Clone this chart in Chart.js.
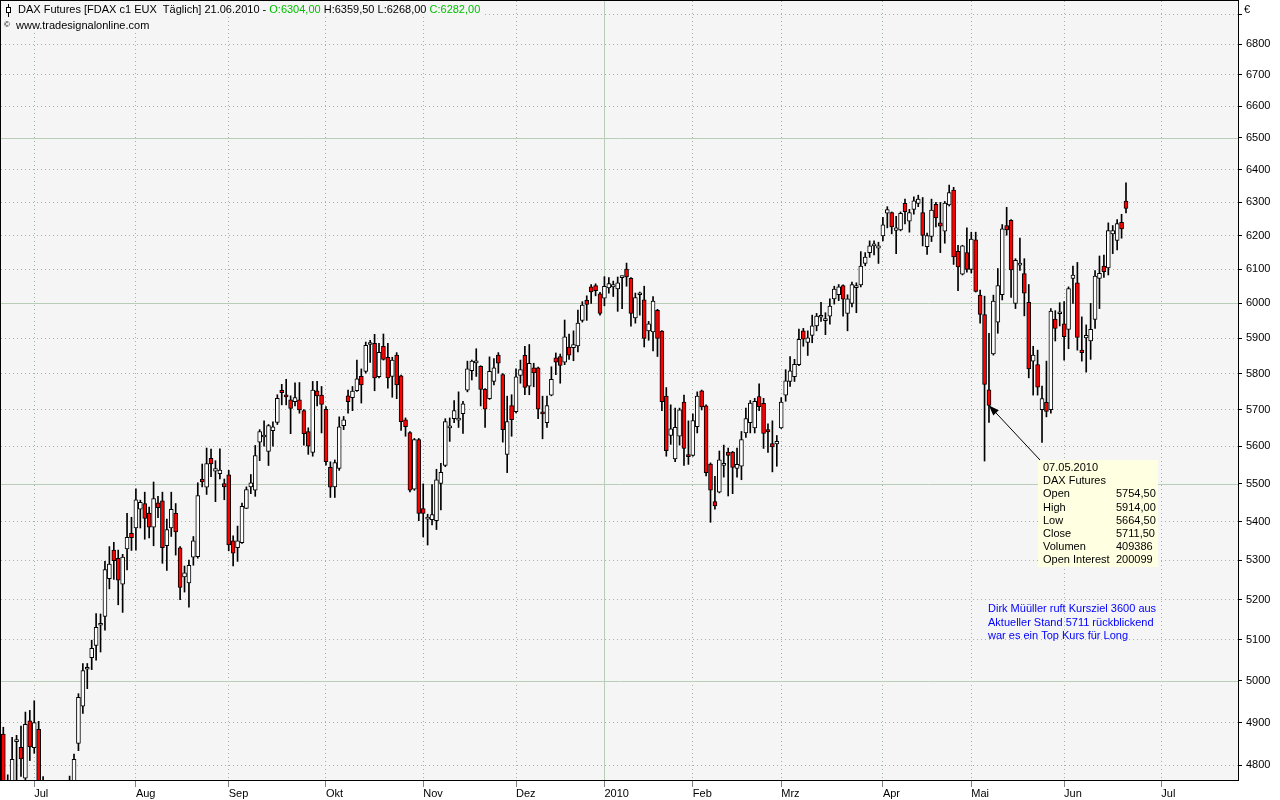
<!DOCTYPE html>
<html>
<head>
<meta charset="utf-8">
<title>DAX Futures</title>
<script src="https://cdn.jsdelivr.net/npm/chart.js@4.4.1/dist/chart.umd.min.js"></script>
<style>
  html, body { margin: 0; padding: 0; background: #fff; }
  #wrap { width: 1280px; height: 800px; }
</style>
</head>
<body>
<div id="wrap"><canvas id="c" width="1280" height="800"></canvas></div>
<script>
'use strict';

// Tagesdaten FDAX, 22.06.2009 - 21.06.2010 (Index = Handelstag)
const OPEN = [
  4873,4720,4760,4855,4842,4770,4904,4841,4884,4740,
  4710,4670,4630,4590,4610,4580,4720,4851,4939,5028,
  5056,5086,5136,5158,5253,5326,5305,5239,5329,5369,
  5383,5432,5447,5422,5385,5449,5454,5337,5383,5421,
  5332,5257,5242,5308,5309,5512,5490,5567,5533,5526,
  5500,5523,5350,5332,5345,5434,5491,5482,5611,5625,
  5586,5642,5665,5753,5738,5727,5722,5727,5697,5640,
  5583,5752,5740,5701,5543,5491,5540,5656,5738,5733,
  5752,5792,5806,5882,5885,5791,5877,5846,5792,5852,
  5794,5672,5637,5485,5618,5434,5406,5405,5402,5500,
  5548,5650,5675,5671,5689,5754,5808,5830,5820,5756,
  5730,5778,5852,5797,5578,5711,5694,5795,5851,5765,
  5816,5816,5692,5664,5740,5844,5848,5832,5875,5873,
  5878,5951,6009,6048,6052,6028,6015,6045,6048,6042,
  6075,6100,6073,5958,6025,6010,5921,5918,5980,5920,
  5737,5629,5566,5627,5721,5575,5575,5653,5752,5710,
  5552,5452,5477,5548,5584,5584,5540,5546,5636,5664,
  5650,5736,5717,5645,5607,5606,5650,5740,5778,5791,
  5825,5921,5888,5908,5935,5960,5950,5963,6013,6025,
  6052,5971,6000,6046,6054,6117,6149,6169,6162,6199,
  6267,6269,6215,6217,6297,6243,6279,6297,6269,6167,
  6197,6294,6238,6213,6292,6338,6153,6085,6149,6099,
  6187,6024,5968,5754.5,5855,5946,6025,6230,6246,6000,
  6112,6087,6003,5835,5825,5700,5720,5700,5955,5970,
  5941,5925,6073,6060,5866,5901,5892,5954,6073,6109,
  6104,6205,6185,6240,6304
];
const HIGH = [
  4889,4778,4865,4870,4892,4925,4929,4952,4903,4774,
  4740,4720,4660,4650,4640,4775,4826,4969,5042,5042,
  5099,5165,5164,5297,5335,5346,5326,5315,5421,5411,
  5486,5456,5477,5438,5504,5466,5477,5406,5477,5447,
  5335,5285,5300,5361,5502,5552,5595,5592,5561,5593,
  5512,5535,5363,5388,5448,5491,5524,5602,5645,5669,
  5659,5666,5741,5770,5784,5738,5774,5775,5700,5650,
  5778,5778,5764,5708,5558,5563,5680,5681,5754,5764,
  5838,5813,5889,5894,5911,5885,5912,5885,5846,5859,
  5796,5677,5640,5621,5621,5499,5419,5497,5538,5554,
  5675,5677,5725,5749,5723,5835,5838,5870,5822,5758,
  5847,5842,5859,5800,5737,5741,5813,5838,5877,5882,
  5829,5818,5737,5737,5819,5858,5855,5952,5912,5921,
  5981,6005,6022,6055,6057,6032,6078,6075,6065,6077,
  6080,6118,6075,6030,6033,6050,5948,6020,5983,5922,
  5761,5713,5704,5704,5740,5669,5688,5749,5754,5713,
  5555,5519,5587,5603,5595,5586,5595,5640,5704,5725,
  5731,5771,5731,5661,5669,5629,5733,5811,5848,5840,
  5926,5928,5921,5966,5971,6003,5973,6013,6050,6055,
  6054,6025,6062,6060,6152,6149,6184,6184,6180,6255,
  6287,6271,6258,6271,6310,6279,6317,6322,6315,6207,
  6310,6300,6300,6303,6353,6346,6171,6171,6223,6210,
  6210,6039,6021,5914,6024,6102,6233,6285,6248,6131,
  6192,6131,6055,5877,5866,5765,5835,5985,5979,6002,
  6005,6048,6109,6120,5961,5938,6000,6096,6139,6142,
  6238,6230,6248,6264,6359.5
];
const LOW = [
  4700,4690,4740,4760,4774,4760,4811,4828,4720,4700,
  4640,4620,4550,4570,4560,4560,4700,4834,4922,4981,
  5027,5050,5070,5124,5227,5251,5187,5168,5275,5325,
  5326,5383,5354,5357,5337,5410,5292,5274,5361,5313,
  5200,5219,5181,5287,5305,5491,5471,5518,5452,5512,
  5457,5324,5285,5297,5343,5434,5473,5466,5561,5600,
  5548,5600,5659,5713,5713,5634,5710,5690,5603,5578,
  5573,5710,5636,5549,5463,5463,5535,5645,5690,5697,
  5750,5718,5801,5831,5752,5788,5838,5759,5734,5730,
  5643,5627,5478,5482,5402,5360,5339,5391,5379,5430,
  5545,5613,5664,5651,5635,5749,5782,5792,5710,5651,
  5728,5768,5801,5611,5529,5627,5691,5773,5741,5741,
  5763,5675,5620,5651,5738,5797,5773,5825,5840,5836,
  5861,5946,5951,6000,6022,5966,5993,6030,6020,5977,
  5985,6050,5934,5943,5966,5875,5894,5864,5848,5697,
  5573,5605,5558,5603,5548,5551,5573,5636,5699,5520,
  5398,5432,5475,5517,5467,5473,5517,5510,5624,5636,
  5636,5697,5594,5583,5531,5546,5648,5723,5764,5778,
  5822,5877,5851,5887,5921,5948,5910,5940,5998,6008,
  5963,5921,5990,5973,6048,6110,6135,6142,6117,6184,
  6223,6205,6146,6214,6235,6210,6264,6287,6169,6144,
  6182,6226,6149,6177,6289,6114,6037,6083,6091,6089,
  6033,5943,5560,5664.5,5852,5914,6010,6201,6017,5985,
  6096,5964,5788,5740,5740,5610,5680,5690,5892,5935,
  5838,5870,6000,5866,5835,5804,5840,5928,5985,6076,
  6083,6146,6157,6192,6268
];
const CLOSE = [
  4710,4740,4814,4860,4815,4896,4843,4900,4740,4720,
  4660,4640,4580,4620,4580,4720,4814,4960,5025,5031,
  5079,5131,5140,5276,5290,5299,5249,5308,5359,5358,
  5457,5450,5408,5385,5460,5436,5332,5379,5432,5373,
  5231,5268,5287,5350,5468,5504,5553,5552,5540,5536,
  5491,5339,5318,5350,5440,5484,5502,5575,5640,5629,
  5656,5653,5731,5747,5735,5703,5733,5699,5634,5600,
  5754,5738,5714,5558,5490,5556,5653,5672,5722,5751,
  5785,5768,5880,5887,5788,5860,5840,5788,5838,5768,
  5667,5653,5482,5618,5421,5421,5410,5418,5510,5530,
  5667,5654,5697,5674,5716,5813,5835,5836,5756,5701,
  5806,5816,5829,5645,5667,5672,5791,5811,5761,5829,
  5802,5701,5688,5711,5784,5832,5823,5904,5852,5882,
  5943,5995,5997,6033,6037,5971,6050,6058,6055,6060,
  6078,6077,5971,6017,6030,5899,5941,6007,5899,5722,
  5588,5647,5651,5699,5594,5572,5670,5737,5707,5529,
  5482,5441,5563,5554,5575,5543,5551,5618,5675,5718,
  5723,5708,5635,5639,5598,5613,5721,5780,5808,5826,
  5897,5897,5901,5935,5963,5962,5956,5992,6042,6048,
  6012,6013,6055,6048,6109,6136,6169,6174,6169,6232,
  6278,6226,6223,6267,6272,6269,6305,6310,6200,6200,
  6277,6253,6228,6298,6330,6136,6107,6169,6099,6189,
  6035,5968,5770,5711.5,6007,6052,6220,6217,6098,6126,
  6116,6030,5813,5852,5762,5730,5695,5978,5928,5973,
  5904,6043,6083,5902,5859,5908,5925,6080,6088,6093,
  6215,6215,6236,6220,6282
];

// Monatsanfaenge (Index des ersten Handelstags) und Beschriftung
const MONTH_IDX = [7, 30, 51, 73, 95, 116, 136, 156, 176, 199, 219, 240, 262];
const MONTH_LABELS = ['Jul', 'Aug', 'Sep', 'Okt', 'Nov', 'Dez', '2010', 'Feb', 'Mrz', 'Apr', 'Mai', 'Jun', 'Jul'];
const YEAR_IDX = 136;

const Y_TICKS = [4800, 4900, 5000, 5100, 5200, 5300, 5400, 5500, 5600, 5700, 5800,
  5900, 6000, 6100, 6200, 6300, 6400, 6500, 6600, 6700, 6800, 6900];
const Y_MAJOR = [5000, 5500, 6000, 6500];

// Markierte Kerze (07.05.2010) und Infobox
const MARK_IDX = 223;
const INFO_LINES = [
  ['07.05.2010', ''],
  ['DAX Futures', ''],
  ['Open', '5754,50'],
  ['High', '5914,00'],
  ['Low', '5664,50'],
  ['Close', '5711,50'],
  ['Volumen', '409386'],
  ['Open Interest', '200099'],
];
const NOTE_LINES = [
  'Dirk Müüller ruft Kursziel 3600 aus',
  'Aktueller Stand 5711 rückblickend',
  'war es ein Top Kurs für Long',
];

const PLOT_BG = '#f5f5f5';
const DOT_COLOR = '#9fb59f';
const MAJOR_COLOR = '#b9cdb9';
const UP_COLOR = '#ffffff';
const DOWN_COLOR = '#ff0000';
const FONT = '11px "Liberation Sans", Arial, sans-serif';

Chart.defaults.font.family = '"Liberation Sans", Arial, sans-serif';
Chart.defaults.font.size = 11;
Chart.defaults.color = '#000';

const idx = OPEN.map((_, i) => i);
const wicks = idx.map((i) => ({ x: i, y: [LOW[i], HIGH[i]] }));
const bodies = idx.map((i) => ({ x: i, y: [OPEN[i], CLOSE[i]] }));
const bodyColors = idx.map((i) => (CLOSE[i] < OPEN[i] ? DOWN_COLOR : UP_COLOR));

// Achsen ohne automatische Randabstaende fuer Beschriftungen
function noPadding(s) {
  s.paddingTop = 0;
  s.paddingBottom = 0;
  s.paddingLeft = 0;
  s.paddingRight = 0;
}

// --- Plugin: Hintergrund, Hauptlinien, Rahmen, Texte ----------------------

const decor = {
  id: 'decor',
  beforeDraw(chart) {
    const { ctx, chartArea: a } = chart;
    ctx.save();
    ctx.fillStyle = '#ffffff';
    ctx.fillRect(0, 0, chart.width, chart.height);
    ctx.fillStyle = PLOT_BG;
    ctx.fillRect(a.left, a.top, a.right - a.left, a.bottom - a.top);
    ctx.restore();
  },
  beforeDatasetsDraw(chart) {
    const { ctx, chartArea: a, scales: { x, y } } = chart;
    ctx.save();
    ctx.strokeStyle = MAJOR_COLOR;
    ctx.lineWidth = 1;
    ctx.beginPath();
    Y_MAJOR.forEach((v) => {
      const py = Math.round(y.getPixelForValue(v)) + 0.5;
      ctx.moveTo(a.left, py);
      ctx.lineTo(a.right, py);
    });
    const px = Math.round(x.getPixelForValue(YEAR_IDX)) + 0.5;
    ctx.moveTo(px, a.top);
    ctx.lineTo(px, a.bottom);
    ctx.stroke();
    ctx.restore();
  },
  afterDraw(chart) {
    const { ctx, chartArea: a, scales: { x, y } } = chart;
    ctx.save();

    // Rahmen
    ctx.strokeStyle = '#000';
    ctx.lineWidth = 1;
    ctx.strokeRect(a.left - 0.5, a.top - 0.5, a.right - a.left + 1, a.bottom - a.top + 1);

    // Kopfzeile
    ctx.font = FONT;
    ctx.textBaseline = 'middle';
    const parts = [
      ['DAX Futures [FDAX c1 EUX  Täglich] 21.06.2010 - ', '#000'],
      ['O:6304,00', '#00c000'],
      [' H:6359,50 L:6268,00 ', '#000'],
      ['C:6282,00', '#00c000'],
    ];
    let tx = 18;
    const total = parts.reduce((s, p) => s + ctx.measureText(p[0]).width, 0);
    ctx.fillStyle = PLOT_BG;
    ctx.fillRect(a.left, a.top, tx + total - a.left + 2, 16);
    parts.forEach(([t, c]) => {
      ctx.fillStyle = c;
      ctx.fillText(t, tx, 10);
      tx += ctx.measureText(t).width;
    });
    // kleines Kerzensymbol
    ctx.strokeStyle = '#000';
    ctx.beginPath();
    ctx.moveTo(8.5, 4); ctx.lineTo(8.5, 17);
    ctx.stroke();
    ctx.fillStyle = '#fff';
    ctx.fillRect(6, 7, 5, 6);
    ctx.strokeRect(6.5, 7.5, 4, 5);

    const url = 'www.tradesignalonline.com';
    ctx.fillStyle = PLOT_BG;
    ctx.fillRect(a.left, 17, 16 + ctx.measureText(url).width + 2, 14);
    ctx.fillStyle = '#000';
    ctx.font = '8px "Liberation Sans", Arial, sans-serif';
    ctx.fillText('©', 4, 25);
    ctx.font = FONT;
    ctx.fillText(url, 16, 26);

    // Waehrung rechts oben
    ctx.fillText('€', 1244, 10);

    // Pfeil auf die markierte Kerze
    const tipX = x.getPixelForValue(MARK_IDX);
    const tipY = y.getPixelForValue(CLOSE[MARK_IDX]);
    const box = { x: 1038, y: 460, w: 120, h: 107 };
    const fromX = box.x + 2, fromY = box.y;
    const ang = Math.atan2(tipY - fromY, tipX - fromX);
    ctx.strokeStyle = '#000';
    ctx.beginPath();
    ctx.moveTo(fromX, fromY);
    ctx.lineTo(tipX, tipY);
    ctx.stroke();
    ctx.fillStyle = '#000';
    ctx.beginPath();
    ctx.moveTo(tipX, tipY);
    ctx.lineTo(tipX - 11 * Math.cos(ang - 0.35), tipY - 11 * Math.sin(ang - 0.35));
    ctx.lineTo(tipX - 11 * Math.cos(ang + 0.35), tipY - 11 * Math.sin(ang + 0.35));
    ctx.closePath();
    ctx.fill();

    // Infobox
    ctx.fillStyle = '#ffffe1';
    ctx.fillRect(box.x, box.y, box.w, box.h);
    ctx.fillStyle = '#000';
    INFO_LINES.forEach(([k, v], i) => {
      const ly = box.y + 8 + i * 13.2;
      ctx.fillText(k, box.x + 5, ly);
      if (v) ctx.fillText(v, box.x + 78, ly);
    });

    // Kommentar
    ctx.fillStyle = '#0000ff';
    NOTE_LINES.forEach((t, i) => ctx.fillText(t, 988, 609 + i * 13.5));

    ctx.restore();
  },
};

new Chart(document.getElementById('c'), {
  type: 'bar',
  data: {
    datasets: [
      {
        label: 'Docht',
        data: wicks,
        backgroundColor: '#000',
        borderWidth: 0,
        barThickness: 1,
        grouped: false,
        order: 2,
      },
      {
        label: 'Koerper',
        data: bodies,
        backgroundColor: bodyColors,
        borderColor: '#000',
        borderWidth: 1,
        borderSkipped: false,
        barThickness: 4,
        minBarLength: 2,
        grouped: false,
        order: 1,
      },
    ],
  },
  options: {
    responsive: false,
    animation: false,
    devicePixelRatio: 1,
    layout: { padding: { left: 1, top: 1, right: 0, bottom: 0 } },
    plugins: { legend: { display: false }, tooltip: { enabled: false } },
    scales: {
      x: {
        type: 'linear',
        min: -0.52,
        max: 279.34,
        offset: false,
        afterBuildTicks: (s) => { s.ticks = MONTH_IDX.map((v) => ({ value: v })); },
        afterFit: (s) => { s.height = 20; noPadding(s); },
        ticks: {
          autoSkip: false,
          maxRotation: 0,
          align: 'start',
          padding: 0,
          color: '#000',
          callback: (v) => MONTH_LABELS[MONTH_IDX.indexOf(v)] || '',
        },
        grid: {
          offset: false,
          color: (c) => (c.tick && c.tick.value === YEAR_IDX ? 'rgba(0,0,0,0)' : DOT_COLOR),
          tickColor: '#808080',
          tickLength: 7,
        },
        border: { display: false, dash: [1, 3] },
      },
      y: {
        type: 'logarithmic',
        position: 'right',
        min: 4766,
        max: 6943.8,
        afterBuildTicks: (s) => { s.ticks = Y_TICKS.map((v) => ({ value: v })); },
        afterFit: (s) => { s.width = 42; noPadding(s); },
        ticks: {
          autoSkip: false,
          padding: 4,
          color: '#000',
          callback: (v) => (v === 6900 ? '' : String(v)),
        },
        grid: {
          color: (c) => (c.tick && Y_MAJOR.includes(c.tick.value) ? 'rgba(0,0,0,0)' : DOT_COLOR),
          tickColor: '#000',
          tickLength: 4,
        },
        border: { display: false, dash: [1, 3] },
      },
    },
  },
  plugins: [decor],
});
</script>
</body>
</html>
